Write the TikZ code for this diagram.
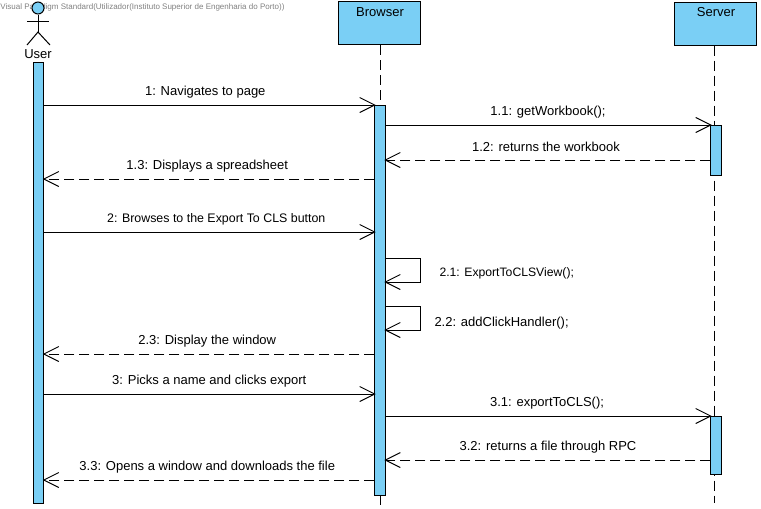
\documentclass[tikz,border=0pt]{standalone}
\usepackage{fontspec}
\setmainfont{Liberation Sans}
\usepackage{tikz}
\usetikzlibrary{arrows.meta}
\usetikzlibrary{positioning}
\definecolor{barblue}{RGB}{122,207,245}
\tikzstyle{arrow}=[-{Straight Barb[length=15pt,width=15pt,line width=1pt]}, line width=1pt, shorten >=-1.5pt]
\tikzstyle{reply}=[arrow, dash pattern=on 10pt off 5pt]
\tikzstyle{lifeline}=[line width=1pt, dash pattern=on 10pt off 5pt]
\tikzstyle{head}=[rectangle, draw, fill=barblue, line width=1pt, minimum width=82pt, minimum height=43pt, inner sep=0pt]
\tikzstyle{bar}=[rectangle, draw, fill=barblue, line width=1pt, minimum width=10.5pt, inner sep=0pt]
\tikzstyle{msg}=[above=6.5pt, inner sep=0pt, black, font=\fontsize{13}{15}\selectfont]
\tikzstyle{note}=[anchor=west, inner sep=0pt, font=\fontsize{13}{15}\selectfont]
\tikzset{every picture/.style={
    line width=1pt
  }
}

\begin{document}
\begin{tikzpicture}[x=1pt,y=-1pt]
        \useasboundingbox (0,0) rectangle (761,509);
        \node[anchor=west, inner sep=0pt, gray, font=\fontsize{8}{9}\selectfont] at (0,7) (stamp) {Visual Paradigm Standard(Utilizador(Instituto Superior de Engenharia do Porto))};
        % actors and heads
        \node[circle, draw, fill=barblue, minimum size=12pt, inner sep=0pt] at (38,8) (userhead) {};
        \coordinate (hip) at (38,32);
        \coordinate (armleft) at (27,21);
        \coordinate (armright) at (49,21);
        \coordinate (footleft) at (27,45);
        \coordinate (footright) at (50,45);
        \draw (userhead) -- (hip);
        \draw (armleft) -- (armright);
        \draw (footleft) -- (hip) -- (footright);
        \node[inner sep=0pt, font=\fontsize{13}{15}\selectfont] at (38,54.5) (user) {User};
        \node[head] at (379,23) (browser) {};
        \node[inner sep=0pt, font=\fontsize{13}{15}\selectfont] at (380,12.5) (browsername) {Browser};
        \node[head] at (715,23.5) (server) {};
        \node[inner sep=0pt, font=\fontsize{13}{15}\selectfont] at (716,12.5) (servername) {Server};
        % lifelines
        \coordinate (browserend) at (380,505);
        \coordinate (serverend) at (714,503);
        \draw[lifeline] (browser.south -| browserend) -- (browserend);
        \draw[lifeline] (server.south -| serverend) -- (serverend);
        % activation bars
        \node[bar, minimum height=441pt] at (38.5,282.5) (userbar) {};
        \node[bar, minimum height=390pt] at (380,300) (browserbar) {};
        \node[bar, minimum height=50pt] at (716,150) (serverbarone) {};
        \node[bar, minimum height=58pt] at (716,445) (serverbartwo) {};
        % message rows
        \foreach \row/\y in {m1/105,m11/125,m12/160,m13/179,m2/232,m21/258,m21b/282,m22/306,m22b/330,m23/354,m3/394,m31/416,m32/460,m33/480}
          \coordinate (\row) at (0,\y);
        \coordinate (loopright) at (420,0);
        \draw[arrow] (userbar.east |- m1) to node[msg, xshift=-4pt]{1: Navigates to page} (browserbar.west |- m1);
        \draw[arrow] (browserbar.east |- m11) to node[msg]{1.1: getWorkbook();} (serverbarone.west |- m11);
        \draw[reply] (serverbarone.west |- m12) to node[msg, xshift=-2pt, yshift=1.5pt]{1.2: returns the workbook} (browserbar.east |- m12);
        \draw[reply] (browserbar.west |- m13) to node[msg, xshift=-2pt]{1.3: Displays a spreadsheet} (userbar.east |- m13);
        \draw[arrow] (userbar.east |- m2) to node[msg, xshift=7pt, font=\fontsize{12.4}{15}\selectfont]{2: Browses to the Export To CLS button} (browserbar.west |- m2);
        \draw[arrow] (browserbar.east |- m21) -- (loopright |- m21) -- (loopright |- m21b) -- (browserbar.east |- m21b);
        \node[note, font=\fontsize{12.2}{15}\selectfont] at (439,273.5) (labeltwoone) {2.1: ExportToCLSView();};
        \draw[arrow] (browserbar.east |- m22) -- (loopright |- m22) -- (loopright |- m22b) -- (browserbar.east |- m22b);
        \node[note] at (434,323.5) (labeltwotwo) {2.2: addClickHandler();};
        \draw[reply] (browserbar.west |- m23) to node[msg, xshift=-2pt]{2.3: Display the window} (userbar.east |- m23);
        \draw[arrow] (userbar.east |- m3) to node[msg]{3: Picks a name and clicks export} (browserbar.west |- m3);
        \draw[arrow] (browserbar.east |- m31) to node[msg, xshift=-1pt]{3.1: exportToCLS();} (serverbartwo.west |- m31);
        \draw[reply] (serverbartwo.west |- m32) to node[msg]{3.2: returns a file through RPC} (browserbar.east |- m32);
        \draw[reply] (browserbar.west |- m33) to node[msg, xshift=-2pt]{3.3: Opens a window and downloads the file} (userbar.east |- m33);
      \end{tikzpicture}
\end{document}
